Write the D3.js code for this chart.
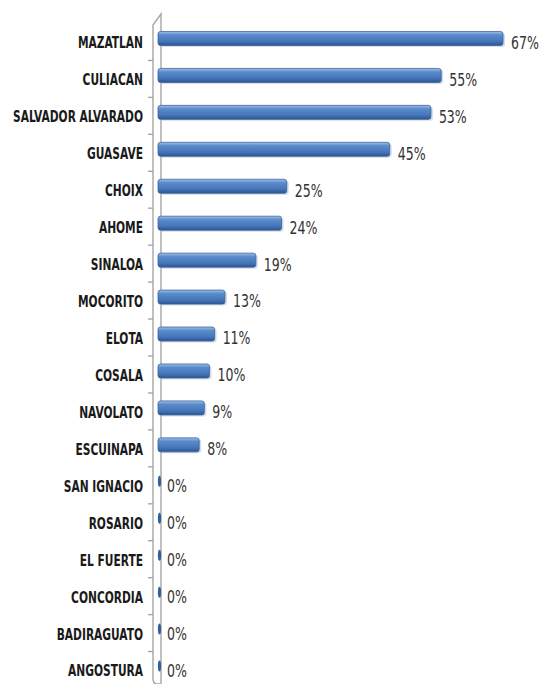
<!DOCTYPE html>
<html>
<head>
<meta charset="utf-8">
<script src="https://cdn.jsdelivr.net/npm/d3@7"></script>
<style>
  body { margin: 0; background: #fff; }
  .cat { font-family: "DejaVu Sans Condensed", "Liberation Sans Narrow", sans-serif; font-weight: bold; font-size: 15px; fill: #1a1a1a; }
  .val { font-family: "DejaVu Sans Condensed", "Liberation Sans Narrow", sans-serif; font-size: 17px; fill: #333; }
</style>
</head>
<body>
<div id="chart"></div>
<script>
'use strict';

var municipios = ['MAZATLAN', 'CULIACAN', 'SALVADOR ALVARADO', 'GUASAVE', 'CHOIX', 'AHOME',
  'SINALOA', 'MOCORITO', 'ELOTA', 'COSALA', 'NAVOLATO', 'ESCUINAPA', 'SAN IGNACIO',
  'ROSARIO', 'EL FUERTE', 'CONCORDIA', 'BADIRAGUATO', 'ANGOSTURA'];
var porcentajes = [67, 55, 53, 45, 25, 24, 19, 13, 11, 10, 9, 8, 0, 0, 0, 0, 0, 0];

var width = 542, height = 684;
var catScale = 0.79, valScale = 0.82;

var data = municipios.map(function(m, i) { return { name: m, value: porcentajes[i] }; });

var svg = d3.select('#chart').append('svg')
  .attr('width', width)
  .attr('height', height);

var defs = svg.append('defs');
var grad = defs.append('linearGradient')
  .attr('id', 'barGrad')
  .attr('x1', 0).attr('y1', 0).attr('x2', 0).attr('y2', 1);
grad.append('stop').attr('offset', '0%').attr('stop-color', '#a3c0e6');
grad.append('stop').attr('offset', '25%').attr('stop-color', '#5a8bcb');
grad.append('stop').attr('offset', '70%').attr('stop-color', '#4576b9');
grad.append('stop').attr('offset', '100%').attr('stop-color', '#2b5491');

var x = d3.scaleLinear().domain([0, 67]).range([158, 503]);
var y = d3.scaleBand().domain(municipios).range([20.5, 685.5]);

// 3D wall (axis)
var wall = svg.append('g').attr('fill', 'none').attr('stroke', '#a6a6a6').attr('stroke-width', 1.4);
wall.append('path').attr('d', 'M153,680 L153,25 L161,14 L161,684');
wall.append('path').attr('d', 'M153,680 Q154,684 157,684 L161,684');

// ticks at category boundaries
var tickPos = d3.range(municipios.length).map(function(i) { return y(municipios[i]) + 3; });
wall.selectAll('line.tick')
  .data(tickPos.slice(1))
  .enter()
  .append('line')
  .attr('class', 'tick')
  .attr('x1', 148).attr('x2', 153)
  .attr('y1', function(d) { return d; })
  .attr('y2', function(d) { return d; });

// category labels (narrowed to mimic a condensed face)
svg.append('g')
  .attr('transform', 'scale(' + catScale + ',1)')
  .selectAll('text.cat')
  .data(data)
  .enter()
  .append('text')
  .attr('class', 'cat')
  .attr('x', 143 / catScale)
  .attr('y', function(d) { return y(d.name) + y.bandwidth() / 2 + 5; })
  .attr('dominant-baseline', 'middle')
  .attr('text-anchor', 'end')
  .text(function(d) { return d.name; });

// bars
var bars = data.filter(function(d) { return d.value > 0; });
svg.selectAll('rect.shadow')
  .data(bars)
  .enter()
  .append('rect')
  .attr('class', 'shadow')
  .attr('x', x(0) + 1)
  .attr('y', function(d) { return y(d.name) + y.bandwidth() / 2 - 6; })
  .attr('width', function(d) { return x(d.value) - x(0) + 1; })
  .attr('height', 14)
  .attr('rx', 3)
  .attr('fill', '#b9c4d3')
  .attr('opacity', 0.6);

svg.selectAll('rect.bar')
  .data(bars)
  .enter()
  .append('rect')
  .attr('class', 'bar')
  .attr('x', x(0))
  .attr('y', function(d) { return y(d.name) + y.bandwidth() / 2 - 7.5; })
  .attr('width', function(d) { return x(d.value) - x(0); })
  .attr('height', 14)
  .attr('rx', 2.5)
  .attr('fill', 'url(#barGrad)')
  .attr('stroke', '#3a659e')
  .attr('stroke-width', 0.8);

// zero bars: tiny slivers
svg.selectAll('ellipse.zero')
  .data(data.filter(function(d) { return d.value === 0; }))
  .enter()
  .append('ellipse')
  .attr('class', 'zero')
  .attr('cx', x(0) + 1.5)
  .attr('cy', function(d) { return y(d.name) + y.bandwidth() / 2 - 1; })
  .attr('rx', 1.6)
  .attr('ry', 5.5)
  .attr('fill', '#2f5f9e');

// value labels
svg.append('g')
  .attr('transform', 'scale(' + valScale + ',1)')
  .selectAll('text.val')
  .data(data)
  .enter()
  .append('text')
  .attr('class', 'val')
  .attr('x', function(d) { return (d.value > 0 ? x(d.value) + 8 : x(0) + 9) / valScale; })
  .attr('y', function(d) { return y(d.name) + y.bandwidth() / 2 + 5; })
  .attr('dominant-baseline', 'middle')
  .text(function(d) { return d.value + '%'; });
</script>
</body>
</html>
